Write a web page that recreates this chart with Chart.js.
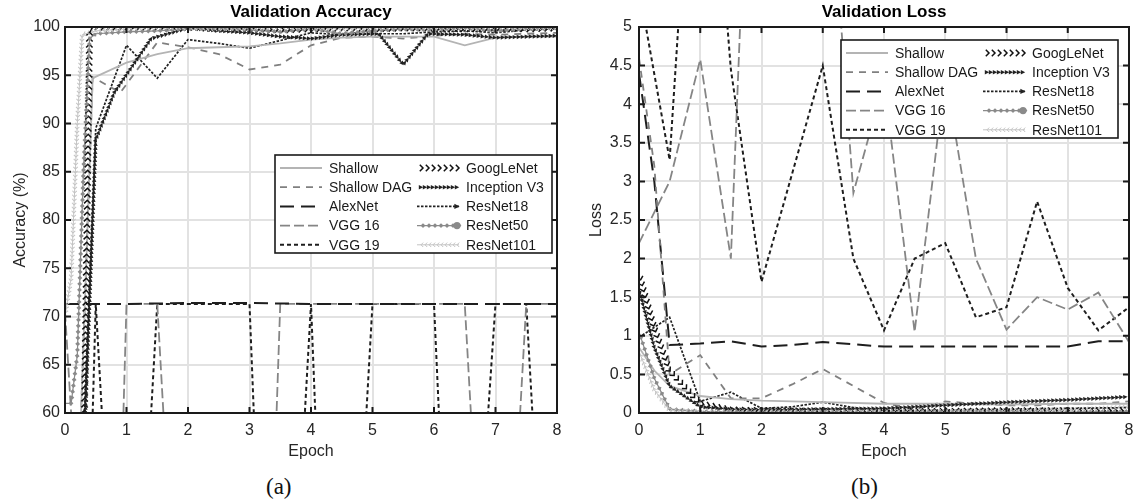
<!DOCTYPE html>
<html>
<head>
<meta charset="utf-8">
<script src="https://cdn.jsdelivr.net/npm/chart.js@4.4.1/dist/chart.umd.min.js"></script>
<style>
	body { margin: 0; background: #fff; }
	#figure { position: relative; width: 1136px; height: 502px; overflow: hidden; }
	.panel { position: absolute; top: 0; width: 568px; height: 470px; }
	.caption { position: absolute; top: 475px; font-family: 'Liberation Serif', 'Times New Roman', serif; font-size: 23px; line-height: 23px; color: #111; }
</style>
</head>
<body>
<div id="figure">
	<div class="panel" style="left:0"><canvas id="acc-chart"></canvas></div>
	<div class="panel" style="left:568px"><canvas id="loss-chart"></canvas></div>
	<div class="caption" style="left:266px">(a)</div>
	<div class="caption" style="left:851px">(b)</div>
</div>
<script>
var seriesNames = ['Shallow', 'Shallow DAG', 'AlexNet', 'VGG 16', 'VGG 19', 'GoogLeNet', 'Inception V3', 'ResNet18', 'ResNet50', 'ResNet101'];

var epochTicks = [0, 1, 2, 3, 4, 5, 6, 7, 8];
var accTicks = [60, 65, 70, 75, 80, 85, 90, 95, 100];
var lossTicks = [0, 0.5, 1, 1.5, 2, 2.5, 3, 3.5, 4, 4.5, 5];

//Validation accuracy (%)
var accShallowX = [0, 0.25, 0.45, 1, 1.5, 2, 2.5, 3, 3.5, 4, 4.5, 5, 5.5, 6, 6.5, 7, 7.5, 8];
var accShallowY = [50, 58, 94.7, 96.3, 97.2, 97.8, 97.9, 98.0, 98.3, 98.7, 98.9, 99.0, 99.0, 99.0, 98.1, 98.9, 99.0, 99.0];
var accShallowDagX = [0, 0.25, 0.45, 0.9, 1.5, 2, 2.5, 3, 3.5, 4, 4.5, 5, 5.5, 6, 6.5, 7, 7.5, 8];
var accShallowDagY = [50, 58, 94.8, 93.2, 98.4, 97.9, 97.2, 95.6, 96.1, 98.1, 98.9, 99.0, 98.8, 99.1, 99.3, 99.2, 99.3, 99.4];
var accAlexNetX = [0, 1, 2, 3, 4, 5, 6, 7, 8];
var accAlexNetY = [71.3, 71.3, 71.4, 71.4, 71.3, 71.3, 71.3, 71.3, 71.3];
var accVgg16X = [0, 0.1, 0.95, 1, 1.5, 1.6, 3.44, 3.5, 6.5, 6.6, 7.4, 7.5, 8];
var accVgg16Y = [70.5, 60, 60, 71.3, 71.3, 60, 60, 71.3, 71.3, 60, 60, 71.3, 71.3];
var accVgg19X = [0, 0.45, 0.5, 0.6, 1.4, 1.5, 3, 3.07, 3.9, 4, 4.07, 4.9, 5, 6, 6.08, 6.88, 7, 7.5, 7.6, 8];
var accVgg19Y = [60, 60, 71.3, 60, 60, 71.3, 71.3, 60, 60, 71.3, 60, 60, 71.3, 71.3, 60, 60, 71.3, 71.3, 60, 60];
var accGoogLeNetX = [0, 0.3, 0.4, 0.5, 1, 1.5, 2, 2.5, 3, 3.5, 4, 4.5, 5, 5.5, 6, 6.5, 7, 7.5, 8];
var accGoogLeNetY = [45, 52, 99.8, 100, 100, 100, 100, 99.8, 99.9, 99.7, 99.8, 99.9, 99.8, 99.9, 99.9, 99.8, 99.9, 99.8, 99.9];
var accInceptionX = [0, 0.3, 0.5, 0.8, 1.4, 2, 2.5, 3, 3.5, 4, 4.5, 5.1, 5.5, 5.9, 6.5, 7, 7.5, 8];
var accInceptionY = [45, 55, 88.3, 93.2, 98.8, 99.9, 99.6, 99.4, 99.0, 98.8, 99.2, 99.3, 96.1, 99.3, 99.2, 98.9, 99.0, 99.1];
var accResNet18X = [0, 0.3, 0.5, 1, 1.5, 2, 2.5, 3, 3.5, 4, 4.5, 5, 5.5, 6, 6.5, 7, 7.5, 8];
var accResNet18Y = [45, 57, 89.5, 98.1, 94.7, 98.7, 98.3, 97.8, 98.6, 99.4, 99.2, 99.3, 99.3, 99.5, 99.6, 99.4, 99.7, 99.8];
var accResNet50X = [0, 0.1, 0.2, 0.3, 0.4, 0.5, 1, 1.5, 2, 2.5, 3, 3.5, 4, 4.5, 5, 5.5, 6, 6.5, 7, 7.5, 8];
var accResNet50Y = [61, 61, 66, 85, 98.8, 99.3, 99.5, 99.6, 99.8, 99.9, 99.7, 99.5, 99.8, 99.3, 99.6, 99.8, 99.7, 99.9, 99.6, 99.8, 99.9];
var accResNet101X = [0, 0.1, 0.2, 0.28, 0.5, 1, 1.5, 2, 2.5, 3, 3.5, 4, 4.5, 5, 5.5, 6, 6.5, 7, 7.5, 8];
var accResNet101Y = [70, 74, 90, 99.2, 99.6, 99.8, 100, 99.9, 99.8, 99.9, 100, 99.9, 99.8, 99.9, 100, 99.9, 99.9, 100, 99.9, 99.9];

//Validation loss
var lossShallowX = [0, 0.25, 0.5, 1, 1.5, 2, 3, 4, 5, 6, 7, 8];
var lossShallowY = [0.85, 0.55, 0.35, 0.22, 0.18, 0.16, 0.14, 0.12, 0.12, 0.11, 0.12, 0.12];
var lossShallowDagX = [0, 0.25, 0.5, 1, 1.5, 2, 2.5, 3, 3.5, 4, 4.5, 5, 5.5, 6, 6.5, 7, 7.5, 8];
var lossShallowDagY = [4.6, 3.2, 0.5, 0.75, 0.19, 0.19, 0.37, 0.57, 0.35, 0.13, 0.05, 0.15, 0.12, 0.1, 0.1, 0.12, 0.12, 0.15];
var lossAlexNetX = [0, 0.25, 0.5, 1, 1.5, 2, 2.5, 3, 3.5, 4, 4.5, 5, 5.5, 6, 6.5, 7, 7.5, 8];
var lossAlexNetY = [4.4, 3.0, 0.88, 0.9, 0.93, 0.86, 0.88, 0.92, 0.89, 0.86, 0.86, 0.86, 0.86, 0.86, 0.86, 0.86, 0.93, 0.93];
var lossVgg16X = [0, 0.5, 1, 1.5, 2, 2.5, 3, 3.5, 4, 4.5, 5, 5.5, 6, 6.5, 7, 7.5, 8];
var lossVgg16Y = [2.2, 3.0, 4.58, 2.0, 12, 10, 8.3, 2.85, 4.3, 1.05, 4.4, 2.0, 1.08, 1.5, 1.34, 1.56, 0.92];
var lossVgg19X = [0, 0.5, 1, 1.5, 2, 2.5, 3, 3.5, 4, 4.5, 5, 5.5, 6, 6.5, 7, 7.5, 8];
var lossVgg19Y = [5.5, 3.28, 9.4, 4.45, 1.7, 3.1, 4.5, 2.0, 1.07, 2.0, 2.2, 1.24, 1.37, 2.74, 1.62, 1.07, 1.37];
var lossGoogLeNetX = [0, 0.25, 0.5, 1, 1.5, 2, 3, 4, 5, 6, 7, 8];
var lossGoogLeNetY = [1.8, 1.1, 0.55, 0.12, 0.04, 0.03, 0.02, 0.02, 0.02, 0.03, 0.03, 0.03];
var lossInceptionX = [0, 0.25, 0.5, 1, 1.5, 2, 3, 4, 5, 6, 7, 8];
var lossInceptionY = [1.6, 0.85, 0.35, 0.08, 0.05, 0.04, 0.05, 0.06, 0.1, 0.14, 0.17, 0.21];
var lossResNet18X = [0, 0.5, 1, 1.5, 2, 2.5, 3, 3.5, 4, 5, 6, 7, 8];
var lossResNet18Y = [0.98, 1.24, 0.15, 0.27, 0.06, 0.08, 0.14, 0.07, 0.03, 0.04, 0.05, 0.06, 0.07];
var lossResNet50X = [0, 0.25, 0.5, 1, 2, 3, 4, 5, 6, 7, 8];
var lossResNet50Y = [1.05, 0.45, 0.05, 0.02, 0.01, 0.02, 0.01, 0.02, 0.02, 0.01, 0.02];
var lossResNet101X = [0, 0.25, 0.5, 1, 2, 3, 4, 5, 6, 7, 8];
var lossResNet101Y = [0.8, 0.3, 0.03, 0.02, 0.02, 0.01, 0.02, 0.02, 0.03, 0.04, 0.08];

var fontFamily = '"Liberation Sans", Arial, Helvetica, sans-serif';

//Line look of each series, same order as seriesNames
var lineStyles = [
	{color: '#b4b4b4', width: 1.8, dash: [], line: true},
	{color: '#808080', width: 1.8, dash: [7, 6], line: true},
	{color: '#1e1e1e', width: 2, dash: [14, 7], line: true},
	{color: '#858585', width: 1.8, dash: [10, 4], line: true},
	{color: '#1e1e1e', width: 2, dash: [4, 3], line: true},
	{color: '#111111', width: 1.4, dash: [], line: false, trail: {shape: 'chevron', gap: 6, size: 3.2, width: 1.5}},
	{color: '#222222', width: 1.2, dash: [], line: false, trail: {shape: 'tri', gap: 4, size: 2.2}},
	{color: '#222222', width: 1.7, dash: [2.5, 1.5], line: true, trail: {shape: 'tri', gap: 0, size: 2.6, endOnly: true}},
	{color: '#8a8a8a', width: 1.2, dash: [], line: true, trail: {shape: 'diamond', gap: 6, size: 2.4, endDot: true}},
	{color: '#c4c4c4', width: 1, dash: [], line: true, trail: {shape: 'back', gap: 4, size: 2.2, width: 1}}
];

function drawMark(ctx, x, y, angle, trail) {
	var s = trail.size;

	ctx.save();
	ctx.translate(x, y);
	ctx.rotate(angle);
	ctx.beginPath();
	if (trail.shape == 'chevron') {
		ctx.moveTo(-s, -s);
		ctx.lineTo(0, 0);
		ctx.lineTo(-s, s);
		ctx.stroke();
	} else if (trail.shape == 'back') {
		ctx.moveTo(s, -s);
		ctx.lineTo(0, 0);
		ctx.lineTo(s, s);
		ctx.stroke();
	} else if (trail.shape == 'tri') {
		ctx.moveTo(s, 0);
		ctx.lineTo(-s, -s);
		ctx.lineTo(-s, s);
		ctx.closePath();
		ctx.fill();
	} else {
		ctx.moveTo(s, 0);
		ctx.lineTo(0, -s);
		ctx.lineTo(-s, 0);
		ctx.lineTo(0, s);
		ctx.closePath();
		ctx.fill();
	}
	ctx.restore();
}

//Repeat the marker along the polyline at a fixed pixel spacing
function drawTrail(ctx, pts, trail, color) {
	var carry = 0;

	ctx.save();
	ctx.strokeStyle = color;
	ctx.fillStyle = color;
	ctx.lineWidth = trail.width || 1;
	ctx.setLineDash([]);
	for (let i = 1; i < pts.length; i++) {
		let a = pts[i - 1], b = pts[i];
		let dx = b.x - a.x, dy = b.y - a.y;
		let len = Math.hypot(dx, dy);
		if (!len) {
			continue;
		}
		let angle = Math.atan2(dy, dx);
		let d = trail.gap - carry;
		while (d <= len) {
			drawMark(ctx, a.x + dx * d / len, a.y + dy * d / len, angle, trail);
			d += trail.gap;
		}
		carry = len - (d - trail.gap);
	}
	ctx.restore();
}

function drawSample(ctx, ds, x0, x1, y) {
	if (ds.showLine !== false) {
		ctx.save();
		ctx.strokeStyle = ds.borderColor;
		ctx.lineWidth = ds.borderWidth;
		ctx.setLineDash(ds.borderDash);
		ctx.beginPath();
		ctx.moveTo(x0, y);
		ctx.lineTo(x1, y);
		ctx.stroke();
		ctx.restore();
	}
	if (!ds.trail) {
		return;
	}
	ctx.save();
	ctx.fillStyle = ds.borderColor;
	if (ds.trail.endOnly) {
		drawMark(ctx, x1 - 2, y, 0, ds.trail);
	} else {
		drawTrail(ctx, [{x: x0, y: y}, {x: x1, y: y}], ds.trail, ds.borderColor);
	}
	if (ds.trail.endDot) {
		ctx.beginPath();
		ctx.arc(x1 - 2, y, 3.6, 0, Math.PI * 2);
		ctx.fill();
	}
	ctx.restore();
}

var matlabAxes = {
	id: 'matlabAxes',

	afterDatasetsDraw: function(chart) {
		var ctx = chart.ctx,
			area = chart.chartArea;

		ctx.save();
		ctx.beginPath();
		ctx.rect(area.left, area.top, area.right - area.left, area.bottom - area.top);
		ctx.clip();
		chart.data.datasets.forEach(function(ds, i) {
			if (ds.trail && !ds.trail.endOnly) {
				let pts = chart.getDatasetMeta(i).data.map(function(p) {
					return {x: p.x, y: p.y};
				});
				drawTrail(ctx, pts, ds.trail, ds.borderColor);
			}
		});
		ctx.restore();

		//Box with inward ticks on all four sides
		ctx.save();
		ctx.strokeStyle = '#1a1a1a';
		ctx.lineWidth = 2;
		ctx.setLineDash([]);
		ctx.strokeRect(area.left, area.top, area.right - area.left, area.bottom - area.top);
		ctx.beginPath();
		chart.scales.x.ticks.forEach(function(t) {
			let px = chart.scales.x.getPixelForValue(t.value);
			ctx.moveTo(px, area.bottom);
			ctx.lineTo(px, area.bottom - 6);
			ctx.moveTo(px, area.top);
			ctx.lineTo(px, area.top + 6);
		});
		chart.scales.y.ticks.forEach(function(t) {
			let py = chart.scales.y.getPixelForValue(t.value);
			ctx.moveTo(area.left, py);
			ctx.lineTo(area.left + 6, py);
			ctx.moveTo(area.right, py);
			ctx.lineTo(area.right - 6, py);
		});
		ctx.stroke();
		ctx.restore();
	},

	afterDraw: function(chart, args, opts) {
		var ctx = chart.ctx,
			area = chart.chartArea,
			w = 277,
			h = 98,
			left = area.right - opts.legendRight - w,
			top = area.top + opts.legendTop;

		ctx.save();
		ctx.fillStyle = '#fff';
		ctx.fillRect(left, top, w, h);
		ctx.lineWidth = 1.6;
		ctx.strokeStyle = '#1a1a1a';
		ctx.strokeRect(left, top, w, h);
		ctx.font = '14px ' + fontFamily;
		ctx.textBaseline = 'middle';
		chart.data.datasets.forEach(function(ds, i) {
			let col = Math.floor(i / 5), row = i % 5;
			let y = top + 13 + row * 19.2;
			let x0 = left + (col ? 142 : 5);
			drawSample(ctx, ds, x0, x0 + 42, y);
			ctx.fillStyle = '#1a1a1a';
			ctx.fillText(ds.label, x0 + 49, y + 1);
		});
		ctx.restore();
	}
};

function buildDatasets(xs, ys) {
	return seriesNames.map(function(name, i) {
		var st = lineStyles[i];

		return {
			label: name,
			data: xs[i].map(function(x, j) {
				return {x: x, y: ys[i][j]};
			}),
			borderColor: st.color,
			backgroundColor: st.color,
			borderWidth: st.width,
			borderDash: st.dash,
			showLine: st.line,
			pointRadius: 0,
			pointHoverRadius: 0,
			tension: 0,
			fill: false,
			trail: st.trail
		};
	});
}

function axisFont(size, weight) {
	return {family: fontFamily, size: size, weight: weight || 'normal'};
}

function makeChart(canvasId, opts) {
	return new Chart(document.getElementById(canvasId), {
		type: 'line',
		data: {
			datasets: buildDatasets(opts.xs, opts.ys)
		},
		plugins: [matlabAxes],
		options: {
			responsive: true,
			maintainAspectRatio: false,
			animation: false,
			events: [],
			layout: {
				padding: {left: 0, right: opts.padRight, top: 0, bottom: 0}
			},
			plugins: {
				legend: {display: false},
				tooltip: {enabled: false},
				title: {
					display: true,
					text: opts.title,
					fullSize: false,
					color: '#000',
					font: axisFont(17, 'bold'),
					padding: {top: 2, bottom: 4.6}
				},
				matlabAxes: {legendRight: opts.legendRight, legendTop: opts.legendTop}
			},
			scales: {
				x: {
					type: 'linear',
					min: 0,
					max: 8,
					afterBuildTicks: function(axis) {
						axis.ticks = epochTicks.map(function(v) {
							return {value: v};
						});
					},
					afterFit: function(axis) {
						axis.height = 57;
						axis.paddingLeft = 0;
						axis.paddingRight = 0;
					},
					grid: {color: '#e2e2e2', lineWidth: 2, drawTicks: false},
					border: {display: false},
					ticks: {
						padding: 8,
						color: '#262626',
						font: axisFont(16),
						maxRotation: 0,
						autoSkip: false,
						callback: function(v) {
							return String(v);
						}
					},
					title: {
						display: true,
						text: 'Epoch',
						color: '#262626',
						font: axisFont(16),
						padding: {top: 0, bottom: 9}
					}
				},
				y: {
					type: 'linear',
					min: opts.yTicks[0],
					max: opts.yTicks[opts.yTicks.length - 1],
					afterBuildTicks: function(axis) {
						axis.ticks = opts.yTicks.map(function(v) {
							return {value: v};
						});
					},
					afterFit: function(axis) {
						axis.width = opts.yAxisWidth;
						axis.paddingTop = 0;
						axis.paddingBottom = 0;
					},
					grid: {color: '#e2e2e2', lineWidth: 2, drawTicks: false},
					border: {display: false},
					ticks: {
						padding: opts.yTickPad,
						color: '#262626',
						font: axisFont(16),
						autoSkip: false,
						callback: function(v) {
							return String(v);
						}
					},
					title: {
						display: true,
						text: opts.yTitle,
						color: '#262626',
						font: axisFont(16),
						padding: {top: opts.yTitlePad, bottom: 0}
					}
				}
			}
		}
	});
}

makeChart('acc-chart', {
	title: 'Validation Accuracy',
	yTitle: 'Accuracy (%)',
	yTicks: accTicks,
	xs: [accShallowX, accShallowDagX, accAlexNetX, accVgg16X, accVgg19X, accGoogLeNetX, accInceptionX, accResNet18X, accResNet50X, accResNet101X],
	ys: [accShallowY, accShallowDagY, accAlexNetY, accVgg16Y, accVgg19Y, accGoogLeNetY, accInceptionY, accResNet18Y, accResNet50Y, accResNet101Y],
	padRight: 11,
	yAxisWidth: 65,
	yTickPad: 5,
	yTitlePad: 11,
	legendRight: 5,
	legendTop: 128
});

makeChart('loss-chart', {
	title: 'Validation Loss',
	yTitle: 'Loss',
	yTicks: lossTicks,
	xs: [lossShallowX, lossShallowDagX, lossAlexNetX, lossVgg16X, lossVgg19X, lossGoogLeNetX, lossInceptionX, lossResNet18X, lossResNet50X, lossResNet101X],
	ys: [lossShallowY, lossShallowDagY, lossAlexNetY, lossVgg16Y, lossVgg19Y, lossGoogLeNetY, lossInceptionY, lossResNet18Y, lossResNet50Y, lossResNet101Y],
	padRight: 7,
	yAxisWidth: 71,
	yTickPad: 7,
	yTitlePad: 19,
	legendRight: 11,
	legendTop: 13
});
</script>
</body>
</html>
